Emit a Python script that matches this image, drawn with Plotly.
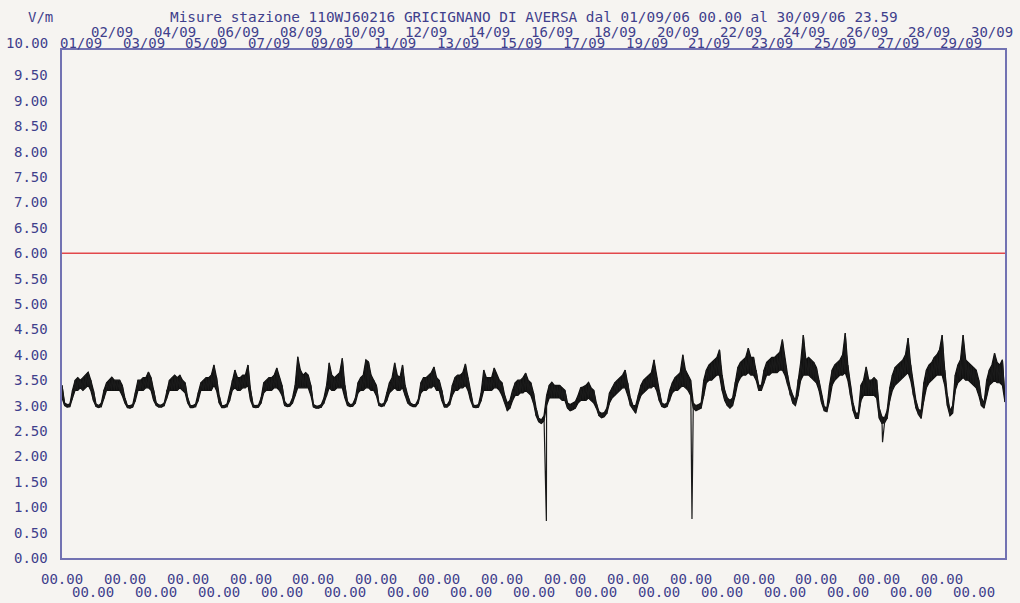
import pandas as pd
import plotly.graph_objects as go

# ---- data -------------------------------------------------------------
title_text = "Misure stazione 110WJ60216 GRICIGNANO DI AVERSA dal 01/09/06 00.00 al 30/09/06 23.59"
unit_label = "V/m"
limit_vm = 6.00

y_ticks = [0.0, 0.5, 1.0, 1.5, 2.0, 2.5, 3.0, 3.5, 4.0, 4.5, 5.0,
           5.5, 6.0, 6.5, 7.0, 7.5, 8.0, 8.5, 9.0, 9.5, 10.0]
day_labels = ["01/09", "02/09", "03/09", "04/09", "05/09", "06/09", "07/09", "08/09",
              "09/09", "10/09", "11/09", "12/09", "13/09", "14/09", "15/09", "16/09",
              "17/09", "18/09", "19/09", "20/09", "21/09", "22/09", "23/09", "24/09",
              "25/09", "26/09", "27/09", "28/09", "29/09", "30/09"]
hour_label = "00.00"

# field strength every 2 hours: lower and upper edge of the readings (V/m)
# one row per day, 00-22h
lo_vm = [
    3.15, 3.00, 2.97, 2.98, 3.15, 3.30, 3.30, 3.35, 3.30, 3.35, 3.40, 3.30,
    3.10, 2.98, 2.96, 2.98, 3.15, 3.30, 3.30, 3.30, 3.30, 3.30, 3.30, 3.20,
    3.05, 2.96, 2.95, 2.97, 3.10, 3.30, 3.30, 3.30, 3.35, 3.35, 3.30, 3.10,
    3.00, 2.97, 2.97, 3.00, 3.15, 3.30, 3.30, 3.30, 3.30, 3.35, 3.30, 3.25,
    3.05, 2.96, 2.96, 2.98, 3.10, 3.30, 3.30, 3.30, 3.30, 3.30, 3.40, 3.30,
    3.05, 2.96, 2.96, 2.98, 3.10, 3.30, 3.35, 3.30, 3.30, 3.35, 3.35, 3.40,
    3.10, 2.97, 2.96, 2.97, 3.05, 3.25, 3.30, 3.30, 3.30, 3.35, 3.35, 3.30,
    3.20, 3.00, 2.98, 2.99, 3.05, 3.20, 3.35, 3.35, 3.35, 3.35, 3.35, 3.20,
    2.97, 2.95, 2.95, 2.97, 3.05, 3.20, 3.35, 3.30, 3.30, 3.35, 3.35, 3.35,
    3.15, 3.00, 2.98, 2.99, 3.05, 3.25, 3.30, 3.30, 3.35, 3.35, 3.30, 3.30,
    3.20, 3.00, 2.98, 3.00, 3.10, 3.25, 3.30, 3.35, 3.30, 3.30, 3.35, 3.20,
    3.05, 3.00, 2.98, 2.98, 3.05, 3.25, 3.30, 3.30, 3.35, 3.35, 3.40, 3.30,
    3.30, 3.10, 2.97, 2.97, 3.02, 3.20, 3.30, 3.30, 3.35, 3.35, 3.40, 3.30,
    3.10, 2.97, 2.96, 2.97, 3.10, 3.30, 3.30, 3.30, 3.30, 3.35, 3.35, 3.30,
    3.20, 3.05, 2.90, 2.95, 3.10, 3.20, 3.20, 3.25, 3.25, 3.30, 3.25, 3.20,
    3.05, 2.80, 2.68, 2.65, 2.70, 3.00, 3.15, 3.15, 3.15, 3.15, 3.15, 3.10,
    3.10, 2.95, 2.90, 2.92, 2.95, 3.05, 3.10, 3.10, 3.10, 3.15, 3.10, 3.05,
    2.95, 2.80, 2.76, 2.78, 2.85, 3.05, 3.15, 3.20, 3.25, 3.30, 3.35, 3.35,
    3.20, 3.00, 2.93, 2.85, 3.05, 3.20, 3.25, 3.30, 3.35, 3.35, 3.40, 3.30,
    3.10, 2.98, 2.96, 2.98, 3.10, 3.25, 3.30, 3.30, 3.35, 3.40, 3.35, 3.30,
    3.20, 2.95, 2.90, 2.92, 2.95, 3.20, 3.45, 3.50, 3.50, 3.55, 3.60, 3.60,
    3.30, 3.10, 3.00, 2.95, 3.00, 3.20, 3.45, 3.55, 3.60, 3.60, 3.65, 3.60,
    3.60, 3.50, 3.30, 3.30, 3.45, 3.60, 3.60, 3.65, 3.65, 3.65, 3.70, 3.70,
    3.60, 3.40, 3.20, 3.05, 3.00, 3.20, 3.50, 3.60, 3.60, 3.60, 3.55, 3.50,
    3.45, 3.30, 3.05, 2.90, 2.88, 3.10, 3.40, 3.50, 3.55, 3.60, 3.60, 3.65,
    3.50, 3.20, 2.90, 2.75, 2.75, 3.10, 3.20, 3.20, 3.20, 3.20, 3.20, 3.15,
    2.75, 2.65, 2.66, 2.75, 3.10, 3.30, 3.40, 3.45, 3.50, 3.55, 3.60, 3.65,
    3.50, 3.20, 2.95, 2.82, 2.75, 3.10, 3.35, 3.45, 3.50, 3.55, 3.60, 3.60,
    3.60, 3.40, 3.00, 2.80, 2.85, 3.30, 3.45, 3.50, 3.55, 3.50, 3.50, 3.45,
    3.40, 3.35, 3.20, 3.00, 2.95, 3.20, 3.40, 3.45, 3.50, 3.45, 3.45, 3.40,
    3.07,
]
hi_vm = [
    3.40, 3.05, 3.02, 3.03, 3.30, 3.50, 3.55, 3.50, 3.55, 3.60, 3.66, 3.50,
    3.30, 3.03, 3.00, 3.05, 3.30, 3.45, 3.50, 3.56, 3.50, 3.50, 3.50, 3.40,
    3.15, 3.00, 3.00, 3.02, 3.25, 3.50, 3.50, 3.55, 3.55, 3.66, 3.55, 3.30,
    3.05, 3.01, 3.01, 3.05, 3.30, 3.50, 3.55, 3.60, 3.55, 3.60, 3.50, 3.45,
    3.15, 3.00, 3.00, 3.03, 3.25, 3.45, 3.50, 3.55, 3.55, 3.60, 3.80, 3.55,
    3.20, 3.00, 3.00, 3.03, 3.25, 3.50, 3.70, 3.55, 3.55, 3.60, 3.60, 3.80,
    3.30, 3.01, 3.00, 3.01, 3.15, 3.45, 3.50, 3.55, 3.55, 3.60, 3.74, 3.55,
    3.40, 3.08, 3.02, 3.03, 3.15, 3.40, 3.96, 3.70, 3.60, 3.65, 3.60, 3.40,
    3.02, 2.99, 2.99, 3.02, 3.15, 3.40, 3.84, 3.60, 3.55, 3.60, 3.65, 3.93,
    3.40, 3.08, 3.02, 3.03, 3.15, 3.45, 3.55, 3.60, 3.90, 3.86, 3.60, 3.50,
    3.40, 3.05, 3.02, 3.05, 3.25, 3.45, 3.55, 3.84, 3.60, 3.55, 3.80, 3.40,
    3.20, 3.05, 3.02, 3.02, 3.12, 3.45, 3.55, 3.55, 3.60, 3.65, 3.76, 3.55,
    3.50, 3.30, 3.03, 3.01, 3.10, 3.40, 3.55, 3.60, 3.60, 3.65, 3.82, 3.55,
    3.25, 3.01, 3.00, 3.02, 3.25, 3.70, 3.55, 3.55, 3.55, 3.74, 3.60, 3.50,
    3.45, 3.20, 3.05, 3.10, 3.30, 3.45, 3.50, 3.50, 3.55, 3.64, 3.50, 3.45,
    3.25, 2.95, 2.75, 2.72, 2.80, 3.20, 3.40, 3.46, 3.40, 3.40, 3.40, 3.35,
    3.30, 3.05, 3.02, 3.05, 3.08, 3.20, 3.35, 3.37, 3.40, 3.46, 3.35, 3.30,
    3.05, 2.88, 2.85, 2.86, 2.95, 3.25, 3.35, 3.45, 3.50, 3.55, 3.60, 3.70,
    3.45, 3.15, 3.00, 3.00, 3.20, 3.40, 3.50, 3.55, 3.60, 3.65, 3.90, 3.55,
    3.30, 3.05, 3.02, 3.05, 3.30, 3.45, 3.55, 3.60, 3.65, 4.00, 3.70, 3.60,
    3.50, 3.05, 3.00, 3.02, 3.05, 3.50, 3.70, 3.80, 3.85, 3.90, 3.95, 4.10,
    3.60, 3.30, 3.15, 3.10, 3.15, 3.45, 3.75, 3.85, 3.90, 3.95, 4.13, 3.95,
    3.95, 3.70, 3.40, 3.40, 3.70, 3.85, 3.90, 3.95, 3.95, 4.00, 4.05, 4.30,
    3.90, 3.60, 3.35, 3.20, 3.10, 3.50, 3.85, 4.39, 3.90, 3.95, 3.90, 3.85,
    3.75, 3.50, 3.20, 2.98, 2.95, 3.40, 3.70, 3.80, 3.85, 3.90, 4.00, 4.43,
    3.80, 3.40, 3.05, 2.85, 2.85, 3.40, 3.50, 3.76, 3.50, 3.50, 3.55, 3.50,
    2.95, 2.78, 2.76, 2.90, 3.35, 3.60, 3.75, 3.80, 3.85, 3.90, 4.00, 4.33,
    3.80, 3.40, 3.10, 2.92, 2.90, 3.45, 3.70, 3.80, 3.85, 3.95, 4.00, 4.10,
    4.39, 3.70, 3.20, 2.90, 3.00, 3.60, 3.80, 3.90, 4.39, 3.90, 3.85, 3.80,
    3.75, 3.70, 3.50, 3.15, 3.05, 3.50, 3.70, 3.80, 4.03, 3.85, 3.80, 3.90,
    3.15,
]

# short isolated drops in the record
dip_times = ["2006-09-16 09:50", "2006-09-21 01:00", "2006-09-27 02:30"]
dip_vm = [0.73, 0.77, 2.28]

# ---- styling ----------------------------------------------------------
BG = "#f6f4f1"
INK = "#3f3f8c"
FRAME = "#7272b2"
FONT = "DejaVu Sans Mono"
FS = 14

times = pd.date_range("2006-09-01 00:00", periods=len(lo_vm), freq="2h")
dips = sorted(zip(pd.to_datetime(dip_times), dip_vm))

# zig-zag between the lower and upper edge, with the drops slotted in by time
xs, ys = [], []
k = 0
for t, a, b in zip(times, lo_vm, hi_vm):
    while k < len(dips) and dips[k][0] <= t:
        xs.append(dips[k][0]); ys.append(dips[k][1]); k += 1
    xs += [t, t]
    ys += [a, b]

fig = go.Figure()
# solid band between the lower and upper edge
fig.add_trace(go.Scatter(x=times, y=lo_vm, mode="lines",
                         line=dict(color="#111111", width=1.2),
                         hoverinfo="skip", showlegend=False))
fig.add_trace(go.Scatter(x=times, y=hi_vm, mode="lines", fill="tonexty",
                         fillcolor="#111111", line=dict(color="#111111", width=1.2),
                         hoverinfo="skip", showlegend=False))
fig.add_trace(go.Scatter(x=xs, y=ys, mode="lines",
                         line=dict(color="#1a1a1a", width=1.2),
                         hoverinfo="skip", showlegend=False))

fig.add_hline(y=limit_vm, line=dict(color="#e2474b", width=1.5))

ann = []
def label(**kw):
    base = dict(showarrow=False, yanchor="middle",
                font=dict(family=FONT, size=FS, color=INK))
    base.update(kw)
    ann.append(base)

# y tick labels (the top one sits a little above the frame)
for v in y_ticks:
    label(x=0, xref="paper", y=v, yref="y", xanchor="right",
          xshift=-12, yshift=7 if v == 10.0 else 0, text=f"{v:.2f}")
# date labels above the frame, two alternating rows
for i, lab in enumerate(day_labels):
    noon = pd.Timestamp("2006-09-01 12:00") + pd.Timedelta(days=i)
    label(x=noon, xref="x", y=1, yref="paper", xanchor="center",
          xshift=3, yshift=7 if i % 2 == 0 else 18.5, text=lab)
# hour labels below the frame, two alternating rows
for i in range(len(day_labels)):
    day0 = pd.Timestamp("2006-09-01 00:00") + pd.Timedelta(days=i)
    label(x=day0, xref="x", y=0, yref="paper", xanchor="center",
          yshift=-21 if i % 2 == 0 else -34, text=hour_label)
# title and unit
label(x=0.5, xref="paper", y=1, yref="paper", xanchor="center", yshift=33, text=title_text,
      font=dict(family=FONT, size=14.4, color=INK))
label(x=0, xref="paper", y=1, yref="paper", xanchor="right", xshift=-7, yshift=33,
      text=unit_label)

fig.update_layout(
    width=1020, height=603,
    margin=dict(l=62, r=15, t=50, b=45),
    paper_bgcolor=BG, plot_bgcolor=BG,
    annotations=ann,
    xaxis=dict(type="date", range=["2006-09-01 00:00", "2006-10-01 00:00"],
               showgrid=False, zeroline=False, showticklabels=False, ticks="",
               showline=True, mirror=True, linecolor=FRAME, linewidth=2),
    yaxis=dict(range=[0, 10], showgrid=False, zeroline=False, showticklabels=False,
               ticks="", showline=True, mirror=True, linecolor=FRAME, linewidth=2),
)

fig.write_html("out.html")
